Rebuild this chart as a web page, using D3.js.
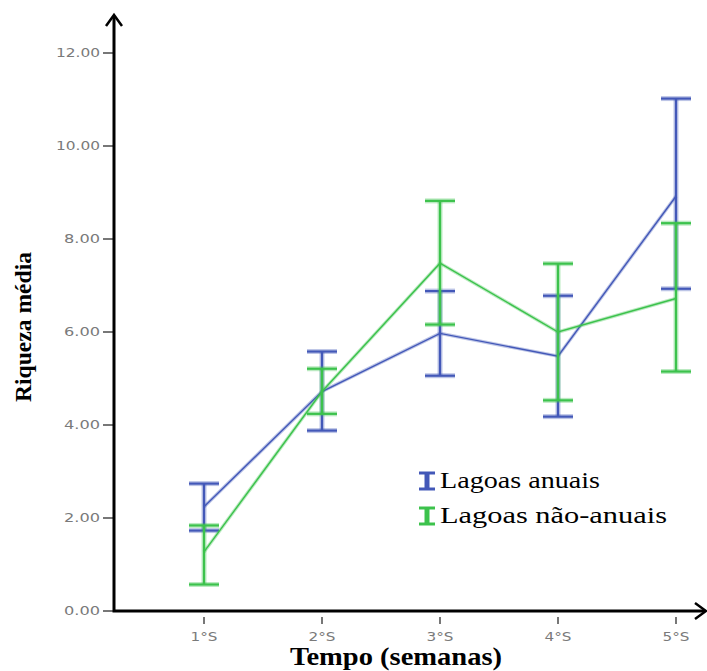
<!DOCTYPE html>
<html><head><meta charset="utf-8">
<script src="https://cdn.jsdelivr.net/npm/d3@7"></script>
<style>body{margin:0;background:#fff}svg{display:block}</style>
</head><body>
<script>
const categories = ["1°S","2°S","3°S","4°S","5°S"];
const seriesNames = ["Lagoas anuais","Lagoas não-anuais"];
const anuaisMean = [2.24, 4.72, 5.97, 5.48, 8.92];
const anuaisLow  = [1.73, 3.88, 5.06, 4.18, 6.93];
const anuaisHigh = [2.74, 5.58, 6.88, 6.78, 11.02];
const naoMean = [1.27, 4.72, 7.48, 6.00, 6.72];
const naoLow  = [0.57, 4.24, 6.16, 4.53, 5.15];
const naoHigh = [1.84, 5.21, 8.82, 7.47, 8.34];
const yTicks = [0, 2, 4, 6, 8, 10, 12];
const colors = ["#4358b8", "#3cc24c"];

const W = 707, H = 671;
const serif = "'Liberation Serif', 'Times New Roman', serif";
const svg = d3.select("body").append("svg").attr("width", W).attr("height", H);
const x = d3.scalePoint().domain(categories).range([204, 676]);
const y = d3.scaleLinear().domain([0, 12]).range([611, 53]);
const x0 = 114;

// y ticks
const yAxis = svg.append("g");
yTicks.forEach(t => {
  yAxis.append("line").attr("x1", x0 - 11).attr("x2", x0).attr("y1", y(t)).attr("y2", y(t))
    .attr("stroke", "#777").attr("stroke-width", 2);
  const lbl = t.toFixed(2);
  yAxis.append("text").attr("x", x0 - 14).attr("y", y(t)).attr("dy", "0.35em")
    .attr("text-anchor", "end").attr("font-family", "'DejaVu Sans', sans-serif")
    .attr("font-size", 12).attr("fill", "#7a7a7a")
    .attr("textLength", lbl.length === 5 ? 44 : 36).attr("lengthAdjust", "spacingAndGlyphs")
    .text(lbl);
});
// x ticks
categories.forEach(c => {
  svg.append("line").attr("x1", x(c)).attr("x2", x(c)).attr("y1", 617).attr("y2", 624)
    .attr("stroke", "#777").attr("stroke-width", 2);
  svg.append("text").attr("x", x(c)).attr("y", 641).attr("text-anchor", "middle")
    .attr("font-family", "'DejaVu Sans', sans-serif").attr("font-size", 12)
    .attr("fill", "#7a7a7a").attr("textLength", 27).attr("lengthAdjust", "spacingAndGlyphs")
    .text(c);
});

// series
const series = [
  {mean: anuaisMean, lo: anuaisLow, hi: anuaisHigh, color: colors[0]},
  {mean: naoMean, lo: naoLow, hi: naoHigh, color: colors[1]}
];
series.forEach(s => {
  const g = svg.append("g");
  categories.forEach((c, i) => {
    const cx = x(c);
    [[cx, y(s.lo[i]), cx, y(s.hi[i])], [cx - 15, y(s.hi[i]), cx + 15, y(s.hi[i])], [cx - 15, y(s.lo[i]), cx + 15, y(s.lo[i])]]
      .forEach(([a, b, cc, d]) => {
        g.append("line").attr("x1", a).attr("y1", b).attr("x2", cc).attr("y2", d)
          .attr("stroke", s.color).attr("stroke-opacity", 0.35).attr("stroke-width", 5);
        g.append("line").attr("x1", a).attr("y1", b).attr("x2", cc).attr("y2", d)
          .attr("stroke", s.color).attr("stroke-width", 2.2);
      });
  });
  const line = d3.line().x((d, i) => x(categories[i])).y(d => y(d));
  g.append("path").datum(s.mean).attr("d", line).attr("fill", "none")
    .attr("stroke", s.color).attr("stroke-opacity", 0.35).attr("stroke-width", 3.5);
  g.append("path").datum(s.mean).attr("d", line).attr("fill", "none")
    .attr("stroke", s.color).attr("stroke-width", 1.4);
});

// axes with arrows
svg.append("path").attr("d", `M${x0},16 V611 H705`).attr("fill", "none")
  .attr("stroke", "#000").attr("stroke-width", 3);
svg.append("path").attr("d", `M${x0 - 8},26 L${x0},15 L${x0 + 8},26`).attr("fill", "none")
  .attr("stroke", "#000").attr("stroke-width", 2.5);
svg.append("path").attr("d", `M695,603 L706,611 L695,619`).attr("fill", "none")
  .attr("stroke", "#000").attr("stroke-width", 2.5);

// titles
svg.append("text").attr("x", 396).attr("y", 665).attr("text-anchor", "middle")
  .attr("font-family", serif).attr("font-weight", "bold")
  .attr("font-size", 25).attr("textLength", 212).attr("lengthAdjust", "spacingAndGlyphs")
  .text("Tempo (semanas)");
svg.append("text").attr("transform", "translate(31,327) rotate(-90)").attr("text-anchor", "middle")
  .attr("font-family", serif).attr("font-weight", "bold")
  .attr("font-size", 23).attr("textLength", 150).attr("lengthAdjust", "spacingAndGlyphs")
  .text("Riqueza média");

// legend
const legendLen = [160, 227];
seriesNames.forEach((n, i) => {
  const ly = 481 + i * 35;
  const lg = svg.append("g");
  lg.append("line").attr("x1", 427).attr("x2", 427).attr("y1", ly - 8).attr("y2", ly + 8)
    .attr("stroke", colors[i]).attr("stroke-width", 5);
  [ly - 8, ly + 8].forEach(yy => lg.append("line").attr("x1", 419).attr("x2", 435)
    .attr("y1", yy).attr("y2", yy).attr("stroke", colors[i]).attr("stroke-width", 3));
  lg.append("text").attr("x", 440).attr("y", ly + 7)
    .attr("font-family", serif).attr("font-size", 22.5)
    .attr("textLength", legendLen[i]).attr("lengthAdjust", "spacingAndGlyphs")
    .text(n);
});
</script>
</body></html>
